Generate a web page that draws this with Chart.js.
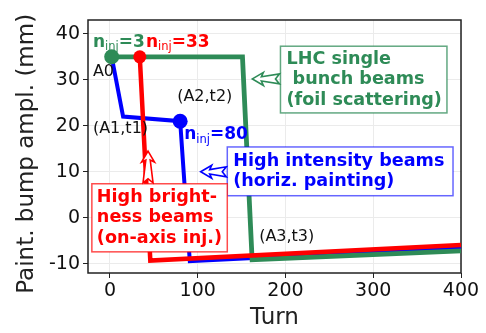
<!DOCTYPE html>
<html>
<head>
<meta charset="utf-8">
<script src="https://cdn.jsdelivr.net/npm/chart.js@4"></script>
<style>
    html, body { margin: 0; padding: 0; background: #ffffff; }
    #wrap { width: 486px; height: 333px; }
</style>
</head>
<body>
<div id="wrap"><canvas id="bumpChart" width="486" height="333"></canvas></div>
<script>
// Painting bump curves (turn, amplitude in mm)
const redTurns = [34, 46, 400];
const redAmpl = [35, -9.3, -5.9];
const greenTurns = [2, 151, 162, 400];
const greenAmpl = [35, 35, -9.1, -7.2];
const blueTurns = [2, 15, 80, 91, 400];
const blueAmpl = [35, 22, 21, -9.4, -6.5];
// which points carry a marker
const redMarkers = [6.5, 0, 0];
const greenMarkers = [7.5, 0, 0, 0];
const blueMarkers = [0, 0, 7.5, 0, 0];

const xTicks = [0, 100, 200, 300, 400];
const yTicks = [-10, 0, 10, 20, 30, 40];

const GREEN = "#2e8b57";
const RED = "#ff0000";
const BLUE = "#0000ff";
const FONT = "'DejaVu Sans', sans-serif";

function toPoints(xs, ys) {
    return xs.map((x, i) => ({ x: x, y: ys[i] }));
}

//////////////////////////////////
// Annotation helpers
//////////////////////////////////
function drawLabel(ctx, x, y, parts) {
    // parts: [text, size, bold, color, dy]
    let cx = x;
    parts.forEach(p => {
        ctx.font = (p[2] ? "bold " : "") + p[1] + "px " + FONT;
        ctx.fillStyle = p[3];
        ctx.textBaseline = "middle";
        ctx.textAlign = "left";
        ctx.fillText(p[0], cx, y + (p[4] || 0));
        cx += ctx.measureText(p[0]).width;
    });
}

function nLabel(ctx, x, y, value, color) {
    drawLabel(ctx, x, y, [
        ["n", 17, true, color, 0],
        ["inj", 11.5, false, color, 5],
        ["=" + value, 17, true, color, 0]
    ]);
}

function drawBox(ctx, l, t, r, b, lines, color, edge, textX, lineH) {
    ctx.save();
    ctx.fillStyle = "#ffffff";
    ctx.fillRect(l, t, r - l, b - t);
    ctx.strokeStyle = edge;
    ctx.lineWidth = 1.5;
    ctx.strokeRect(l, t, r - l, b - t);
    ctx.font = "bold 17.6px " + FONT;
    ctx.fillStyle = color;
    ctx.textBaseline = "middle";
    ctx.textAlign = "left";
    const midY = (t + b) / 2;
    lines.forEach((txt, i) => {
        ctx.fillText(txt, textX, midY + (i - (lines.length - 1) / 2) * lineH);
    });
    ctx.restore();
}

function drawArrow(ctx, tipX, tipY, tailX, tailY, color) {
    const dx = tailX - tipX, dy = tailY - tipY;
    const L = Math.sqrt(dx * dx + dy * dy);
    const ux = dx / L, uy = dy / L;
    const vx = -uy, vy = ux;
    const shape = [[0, 0], [11, -6.5], [9, -2.2], [L - 1, -5], [L - 5, 0], [L - 1, 5], [9, 2.2], [11, 6.5]];
    ctx.save();
    ctx.beginPath();
    shape.forEach((s, i) => {
        const px = tipX + ux * s[0] + vx * s[1];
        const py = tipY + uy * s[0] + vy * s[1];
        if (i === 0) ctx.moveTo(px, py); else ctx.lineTo(px, py);
    });
    ctx.closePath();
    ctx.fillStyle = "#ffffff";
    ctx.fill();
    ctx.strokeStyle = color;
    ctx.lineWidth = 1.6;
    ctx.lineJoin = "miter";
    ctx.stroke();
    ctx.restore();
}

const framePlugin = {
    id: "frame",
    beforeDatasetsDraw(chart) {
        const a = chart.chartArea;
        const ctx = chart.ctx;
        ctx.save();
        ctx.strokeStyle = "#222222";
        ctx.lineWidth = 1.5;
        ctx.strokeRect(a.left, a.top, a.right - a.left, a.bottom - a.top);
        ctx.restore();
    }
};

const annotationPlugin = {
    id: "notes",
    afterDatasetsDraw(chart) {
        const ctx = chart.ctx;
        const xs = chart.scales.x, ys = chart.scales.y;
        const X = v => xs.getPixelForValue(v);
        const Y = v => ys.getPixelForValue(v);

        // point labels
        nLabel(ctx, X(-19.4), Y(38.2), "3", GREEN);
        nLabel(ctx, X(41.1), Y(38.2), "33", RED);
        nLabel(ctx, X(84.6), Y(18.0), "80", BLUE);
        drawLabel(ctx, X(-19.4), Y(31.7), [["A0", 16, false, "#111111", 0]]);
        drawLabel(ctx, X(-19.4), Y(19.3), [["(A1,t1)", 16, false, "#111111", 0]]);
        drawLabel(ctx, X(76.6), Y(26.2), [["(A2,t2)", 16, false, "#111111", 0]]);
        drawLabel(ctx, X(170), Y(-4.1), [["(A3,t3)", 16, false, "#111111", 0]]);

        // boxes
        drawBox(ctx, X(194.3), Y(37.3), X(384), Y(22.8),
            ["LHC single", " bunch beams", "(foil scattering)"],
            GREEN, "rgba(46,139,87,0.75)", X(194.3) + 6, 20.5);
        drawBox(ctx, X(133.7), Y(15.4), X(390.9), Y(4.8),
            ["High intensity beams", "(horiz. painting)"],
            BLUE, "rgba(0,0,255,0.6)", X(133.7) + 6, 19.5);
        drawBox(ctx, X(-20.6), Y(7.4), X(133.7), Y(-7.4),
            ["High bright-", "ness beams", "(on-axis inj.)"],
            RED, "rgba(255,0,0,0.7)", X(-20.6) + 5, 20.5);

        // arrows
        drawArrow(ctx, X(162.3), Y(30.2), X(194.3), Y(30.2), GREEN);
        drawArrow(ctx, X(103.4), Y(10.0), X(133.7), Y(10.0), BLUE);
        drawArrow(ctx, X(43.4), Y(14.5), X(43.4), Y(7.4), RED);
    }
};

const ctxBump = document.getElementById("bumpChart").getContext("2d");
new Chart(ctxBump, {
    type: "line",
    data: {
        datasets: [
            {
                label: "red",
                data: toPoints(redTurns, redAmpl),
                borderColor: RED,
                backgroundColor: RED,
                borderWidth: 4.5,
                pointRadius: redMarkers,
                pointBorderWidth: 0,
                tension: 0
            },
            {
                label: "green",
                data: toPoints(greenTurns, greenAmpl),
                borderColor: GREEN,
                backgroundColor: GREEN,
                borderWidth: 4.8,
                pointRadius: greenMarkers,
                pointBorderWidth: 0,
                tension: 0
            },
            {
                label: "blue",
                data: toPoints(blueTurns, blueAmpl),
                borderColor: BLUE,
                backgroundColor: BLUE,
                borderWidth: 4,
                pointRadius: blueMarkers,
                pointBorderWidth: 0,
                tension: 0
            }
        ]
    },
    options: {
        responsive: false,
        animation: false,
        events: [],
        layout: { padding: { top: 20, right: 25, left: 0, bottom: 0 } },
        plugins: {
            legend: { display: false },
            tooltip: { enabled: false }
        },
        scales: {
            x: {
                type: "linear",
                min: -25,
                max: 400,
                afterBuildTicks: axis => { axis.ticks = xTicks.map(v => ({ value: v })); },
                afterFit: axis => { axis.height = 60; },
                grid: { color: "#ebebeb", lineWidth: 1, tickColor: "#222222", tickLength: 5 },
                border: { display: false },
                ticks: { color: "#111111", font: { family: FONT, size: 19 }, padding: 2, maxRotation: 0 },
                title: { display: true, text: "Turn", color: "#222222", font: { family: FONT, size: 23 }, padding: { top: 0, bottom: 1 } }
            },
            y: {
                type: "linear",
                min: -12,
                max: 43,
                afterBuildTicks: axis => { axis.ticks = yTicks.map(v => ({ value: v })); },
                afterFit: axis => { axis.width = 88; },
                grid: { color: "#ebebeb", lineWidth: 1, tickColor: "#222222", tickLength: 5 },
                border: { display: false },
                ticks: { color: "#111111", font: { family: FONT, size: 19 }, padding: 3 },
                title: { display: true, text: "Paint. bump ampl. (mm)  ", color: "#222222", font: { family: FONT, size: 23 }, padding: { top: 13, bottom: 0 } }
            }
        }
    },
    plugins: [framePlugin, annotationPlugin]
});
</script>
</body>
</html>
